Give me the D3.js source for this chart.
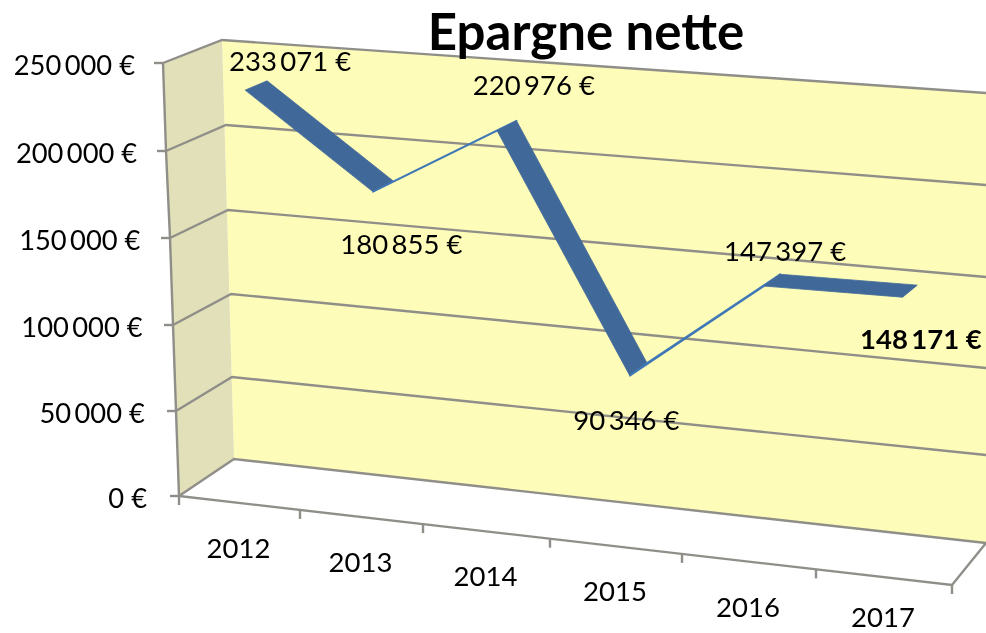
<!DOCTYPE html>
<html><head><meta charset="utf-8">
<script src="https://cdnjs.cloudflare.com/ajax/libs/d3/7.8.5/d3.min.js"></script>
<style>html,body{margin:0;background:#fff}svg{display:block}text{font-family:Lato,"Open Sans",sans-serif;fill:#000}</style>
</head><body><svg id="c" width="986" height="633"></svg>
<script>
const title = "Epargne nette";
const categories = ["2012","2013","2014","2015","2016","2017"];
const values = [233071,180855,220976,90346,147397,148171];
const yTicks = [0,50000,100000,150000,200000,250000];
const boldIndex = 5;

const svg = d3.select("#c");
const defs = svg.append("defs");
const addBlur=(id,s)=>defs.append("filter").attr("id",id).attr("x","-5%").attr("y","-5%").attr("width","110%").attr("height","110%")
  .append("feGaussianBlur").attr("stdDeviation",s);
addBlur("soft",0.55); addBlur("softText",0.35);

// Perspective box: one scale per vertical edge of the box, value -> pixel
const edge = (a) => d3.scaleLinear().domain(yTicks).range(a);
const FL = {x:edge([179,176,173,170,166,163]), y:edge([496,411,325,238,151,63])};
const FR = {x:edge([952,951,950,949,948,947]), y:edge([585,494,402,309,215,122])};
const BL = {x:edge([234,232,231,228,226,222]), y:edge([459,377,294,210,125,40])};
const BR = {x:edge([986,986,986,986,986,986]), y:edge([543,455,368,277,185,93])};

// Category axis: edges 0..n along the floor front, as a fraction of its length
const uEdge = d3.scaleLinear().domain(d3.range(7)).range([179,300,423,550,682,816,952].map(x=>(x-179)/773));
const uMid = i => uEdge(i+0.5);
const pointShift=[0.516,0.536,0.54,0.524,0.548,0.574];
const uCat = i => uEdge(i+pointShift[i]);
const lerp = (a,b,t)=>a+(b-a)*t;
function project(u,val,d){
  const fx=lerp(FL.x(val),FR.x(val),u), fy=lerp(FL.y(val),FR.y(val),u);
  const bx=lerp(BL.x(val),BR.x(val),u), by=lerp(BL.y(val),BR.y(val),u);
  return [lerp(fx,bx,d),lerp(fy,by,d)];
}
const line = d3.line();
const poly = pts => line(pts)+"Z";
const gridCol="#8f8e88", gridW=2.4;
const marks = svg.append("g").attr("filter","url(#soft)");

// walls
marks.append("path").attr("d",poly([project(0,0,1),project(0,250000,1),project(1,250000,1),project(1,0,1)])).attr("fill","#fefcb9");
marks.append("path").attr("d",poly([project(0,0,0),project(0,250000,0),project(0,250000,1),project(0,0,1)])).attr("fill","#e1e0b8");
marks.append("path").attr("d",poly([project(0,0,0),project(0,0,1),project(1,0,1),project(1,0,0)])).attr("fill","#fff");

// gridlines: side wall + back wall
marks.append("g").selectAll("path").data(yTicks).join("path")
  .attr("d",v=>line([project(0,v,0),project(0,v,1),project(1,v,1)]))
  .attr("fill","none").attr("stroke",gridCol).attr("stroke-width",gridW);
// floor front + right edge
marks.append("path").attr("d",line([project(0,0,0),project(1,0,0),project(1,0,1)])).attr("fill","none").attr("stroke",gridCol).attr("stroke-width",gridW);
// value axis line and ticks
marks.append("path").attr("d",line(yTicks.map(v=>project(0,v,0)))).attr("fill","none").attr("stroke",gridCol).attr("stroke-width",gridW);
marks.append("g").selectAll("line").data(yTicks).join("line")
  .attr("x1",v=>project(0,v,0)[0]).attr("y1",v=>project(0,v,0)[1])
  .attr("x2",v=>project(0,v,0)[0]-9).attr("y2",v=>project(0,v,0)[1])
  .attr("stroke",gridCol).attr("stroke-width",gridW);
// category ticks
marks.append("g").selectAll("line").data(d3.range(7)).join("line")
  .attr("x1",i=>project(uEdge(i),0,0)[0]).attr("y1",i=>project(uEdge(i),0,0)[1])
  .attr("x2",i=>project(uEdge(i),0,0)[0]).attr("y2",i=>project(uEdge(i),0,0)[1]+9)
  .attr("stroke",gridCol).attr("stroke-width",gridW);

// ribbon: segments rising on screen show only a thin lit edge
const dFront=0.31, dBack=0.69;
const rises = i => project(uCat(i+1),values[i+1],dBack)[1] < project(uCat(i),values[i],dBack)[1];
marks.append("g").selectAll("path").data(d3.range(values.length-1)).join("path")
  .attr("d",i=>poly([
    project(uCat(i),values[i],dFront),project(uCat(i),values[i],dBack),
    project(uCat(i+1),values[i+1],dBack),project(uCat(i+1),values[i+1],dFront)]))
  .attr("fill",i=>rises(i)?"#3f78b6":"#41699a")
  .attr("stroke",i=>rises(i)?"#3f78b6":"#41699a")
  .attr("stroke-width",i=>rises(i)?1.7:0.8).attr("stroke-linejoin","round");

// axis labels
const money = v => d3.format(",")(v).replace(/,/g,"\u2009")+" €";
const texts = svg.append("g").attr("filter","url(#softText)");
texts.append("g").selectAll("text").data(yTicks).join("text")
  .attr("x",v=>project(0,v,0)[0]-28-4*(1-v/250000)).attr("y",v=>project(0,v,0)[1]+12)
  .attr("text-anchor","end").attr("font-size",27.3).text(money);
texts.append("g").selectAll("text").data(categories).join("text")
  .attr("x",(d,i)=>project(uMid(i),0,0)[0]-1).attr("y",(d,i)=>Math.min(project(uMid(i),0,0)[1]+55,627))
  .attr("text-anchor","middle").attr("font-size",27.5).text(d=>d);

// data labels (offset from their point)
const labelOffset=[[34,-14],[18,67],[27,-31],[-12,61],[13,-19],[11,58]];
texts.append("g").selectAll("text").data(values).join("text")
  .attr("x",(v,i)=>project(uCat(i),v,0.5)[0]+labelOffset[i][0])
  .attr("y",(v,i)=>project(uCat(i),v,0.5)[1]+labelOffset[i][1])
  .attr("text-anchor","middle").attr("font-size",27.5)
  .attr("font-weight",(v,i)=>i===boldIndex?700:400).text(money);

texts.append("text").attr("x",586).attr("y",50).attr("text-anchor","middle")
  .attr("font-size",51).attr("font-weight",700).text(title);
</script></body></html>
